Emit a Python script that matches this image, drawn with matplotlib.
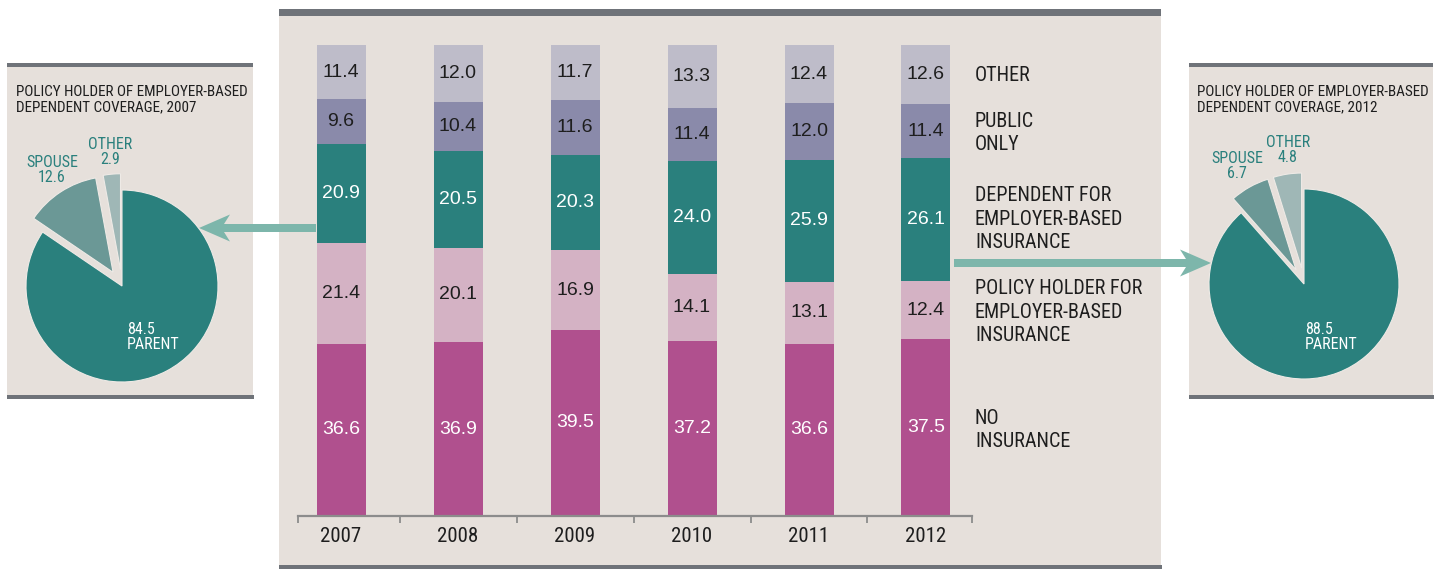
import matplotlib
matplotlib.use("Agg")
import matplotlib.pyplot as plt
from matplotlib.patches import Rectangle, Polygon

# ---- data -------------------------------------------------------------
years = ["2007", "2008", "2009", "2010", "2011", "2012"]
no_insurance = [36.6, 36.9, 39.5, 37.2, 36.6, 37.5]
policy_holder = [21.4, 20.1, 16.9, 14.1, 13.1, 12.4]
dependent = [20.9, 20.5, 20.3, 24.0, 25.9, 26.1]
public_only = [9.6, 10.4, 11.6, 11.4, 12.0, 11.4]
other = [11.4, 12.0, 11.7, 13.3, 12.4, 12.6]

series_labels = [
    "NO\nINSURANCE",
    "POLICY HOLDER FOR\nEMPLOYER-BASED\nINSURANCE",
    "DEPENDENT FOR\nEMPLOYER-BASED\nINSURANCE",
    "PUBLIC\nONLY",
    "OTHER",
]

pie_labels = ["PARENT", "SPOUSE", "OTHER"]
pie_2007 = [84.5, 12.6, 2.9]
pie_2012 = [88.5, 6.7, 4.8]

# ---- style ------------------------------------------------------------
BG = "#E6E0DB"
BAR_GRAY = "#6F7379"
MAGENTA = "#B0508E"
PINK = "#D4B2C4"
TEAL = "#2A807D"
PURPLE = "#8A8AAA"
LAVENDER = "#BEBCC9"
ARROW = "#7DB6AB"
SPOUSE_C = "#6B9896"
OTHER_C = "#9FB7B6"
INK = "#1E1E1E"

NARROW = ["Roboto Condensed", "Archivo Narrow", "Liberation Sans Narrow", "DejaVu Sans"]
REGULAR = ["Liberation Sans", "DejaVu Sans"]

W, H = 1442, 569
fig = plt.figure(figsize=(W / 100, H / 100), dpi=100)
fig.patch.set_facecolor("white")

# background axes in pixel units (y down)
bg = fig.add_axes([0, 0, 1, 1])
bg.set_xlim(0, W)
bg.set_ylim(H, 0)
bg.axis("off")
bg.set_zorder(0)


def panel(x0, x1, y_top, y_bot, bar_top, bar_bot):
    bg.add_patch(Rectangle((x0, y_top), x1 - x0, y_bot - y_top, facecolor=BG, edgecolor="none"))
    bg.add_patch(Rectangle((x0, y_top - bar_top), x1 - x0, bar_top, facecolor=BAR_GRAY, edgecolor="none"))
    bg.add_patch(Rectangle((x0, y_bot), x1 - x0 + 1, bar_bot, facecolor=BAR_GRAY, edgecolor="none"))


panel(279, 1161, 15.5, 565, 6.5, 4)
panel(7, 253, 67, 395, 4, 3.5)
panel(1189, 1433, 67, 395, 4, 3.5)


def arrow(x_tail, x_tip, y, shaft=8, head_w=27, head_len=31, notch=6):
    d = 1 if x_tip > x_tail else -1
    back = x_tip - d * head_len
    join = back + d * notch
    pts = [
        (x_tail, y - shaft / 2),
        (join, y - shaft / 2),
        (back, y - head_w / 2),
        (x_tip, y),
        (back, y + head_w / 2),
        (join, y + shaft / 2),
        (x_tail, y + shaft / 2),
    ]
    bg.add_patch(Polygon(pts, closed=True, facecolor=ARROW, edgecolor="none", zorder=2))


arrow(316, 199, 228)
arrow(954, 1211, 263)

# ---- stacked bars -----------------------------------------------------
ax_l, ax_r, ax_t, ax_b = 298, 972, 45, 516
ax = fig.add_axes([ax_l / W, (H - ax_b) / H, (ax_r - ax_l) / W, (ax_b - ax_t) / H])
ax.set_zorder(2)
ax.patch.set_alpha(0)
step = 117.0
x0 = 341.0
ax.set_xlim((ax_l - x0) / step, (ax_r - x0) / step)
ax.set_ylim(0, 100)

xpos = list(range(len(years)))
width = 49 / step
stack = [no_insurance, policy_holder, dependent, public_only, other]
colors = [MAGENTA, PINK, TEAL, PURPLE, LAVENDER]
text_colors = ["white", INK, "white", INK, INK]
bottom = [0.0] * len(years)
for vals, col, tcol in zip(stack, colors, text_colors):
    ax.bar(xpos, vals, width=width, bottom=bottom, color=col, edgecolor="none")
    for i, v in enumerate(vals):
        ax.text(i, bottom[i] + v / 2, f"{v:.1f}", ha="center", va="center",
                fontsize=14, color=tcol, family=REGULAR)
    bottom = [b + v for b, v in zip(bottom, vals)]

for s in ["top", "right", "left"]:
    ax.spines[s].set_visible(False)
ax.spines["bottom"].set_color("#8C8C8C")
ax.spines["bottom"].set_linewidth(1.6)
ax.set_yticks([])
ax.set_xticks(xpos)
ax.set_xticklabels(years, family=NARROW, fontsize=15, color=INK)
ax.tick_params(axis="x", which="major", length=0, pad=8)
lo, hi = ax.get_xlim()
ax.set_xticks([lo] + [i + 0.5 for i in xpos[:-1]] + [hi], minor=True)
ax.tick_params(axis="x", which="minor", length=5, width=1.3, color="#8C8C8C")

# series names at the right of the bars
label_y = [430, 312, 219, 133, 75]
for txt, yy in zip(series_labels, label_y):
    bg.text(975, yy, txt, ha="left", va="center", fontsize=14.5, color=INK,
            family=NARROW, linespacing=1.32)

# ---- pies -------------------------------------------------------------
pie_colors = [TEAL, SPOUSE_C, OTHER_C]


def pie(cx, cy, r, values):
    L = 1.35
    side = 2 * L * r
    pax = fig.add_axes([(cx - side / 2) / W, (H - cy - side / 2) / H, side / W, side / H])
    pax.set_zorder(1)
    pax.pie(values, colors=pie_colors, startangle=90, counterclock=False,
            explode=[0, 0.17, 0.17], radius=1,
            wedgeprops=dict(edgecolor="#EEEAE6", linewidth=0.8))
    pax.set_xlim(-L, L)
    pax.set_ylim(-L, L)
    pax.set_aspect("equal")
    pax.axis("off")


pie(122, 286, 96, pie_2007)
pie(1304, 284, 95, pie_2012)


def panel_texts(x_title, year, vals, parent_x, spouse_xy, other_xy):
    bg.text(x_title, 99.5, f"POLICY HOLDER OF EMPLOYER-BASED\nDEPENDENT COVERAGE, {year}",
            ha="left", va="center", fontsize=10.9, color=INK, family=NARROW,
            linespacing=1.12)
    bg.text(parent_x, 337, f"{vals[0]:.1f}\n{pie_labels[0]}", ha="left", va="center",
            fontsize=11.5, color="white", family=NARROW, linespacing=1.05)
    bg.text(*spouse_xy, f"{pie_labels[1]}\n{vals[1]:.1f}", ha="center", va="center",
            fontsize=11.5, color=TEAL, family=NARROW, linespacing=1.0)
    bg.text(*other_xy, f"{pie_labels[2]}\n{vals[2]:.1f}", ha="center", va="center",
            fontsize=11.5, color=TEAL, family=NARROW, linespacing=1.0)


panel_texts(16, 2007, pie_2007, 127, (52, 170), (110, 152))
panel_texts(1197, 2012, pie_2012, 1305, (1237, 166), (1288, 150))

# the panel texts sit on top of the pie axes
txt_ax = fig.add_axes([0, 0, 1, 1])
txt_ax.set_xlim(0, W)
txt_ax.set_ylim(H, 0)
txt_ax.axis("off")
txt_ax.set_zorder(3)
for t in list(bg.texts):
    if t.get_position()[0] < 280 or t.get_position()[0] > 1180:
        t.remove()
        txt_ax.add_artist(t)
        t.set_transform(txt_ax.transData)

fig.savefig("out.png", dpi=100)
